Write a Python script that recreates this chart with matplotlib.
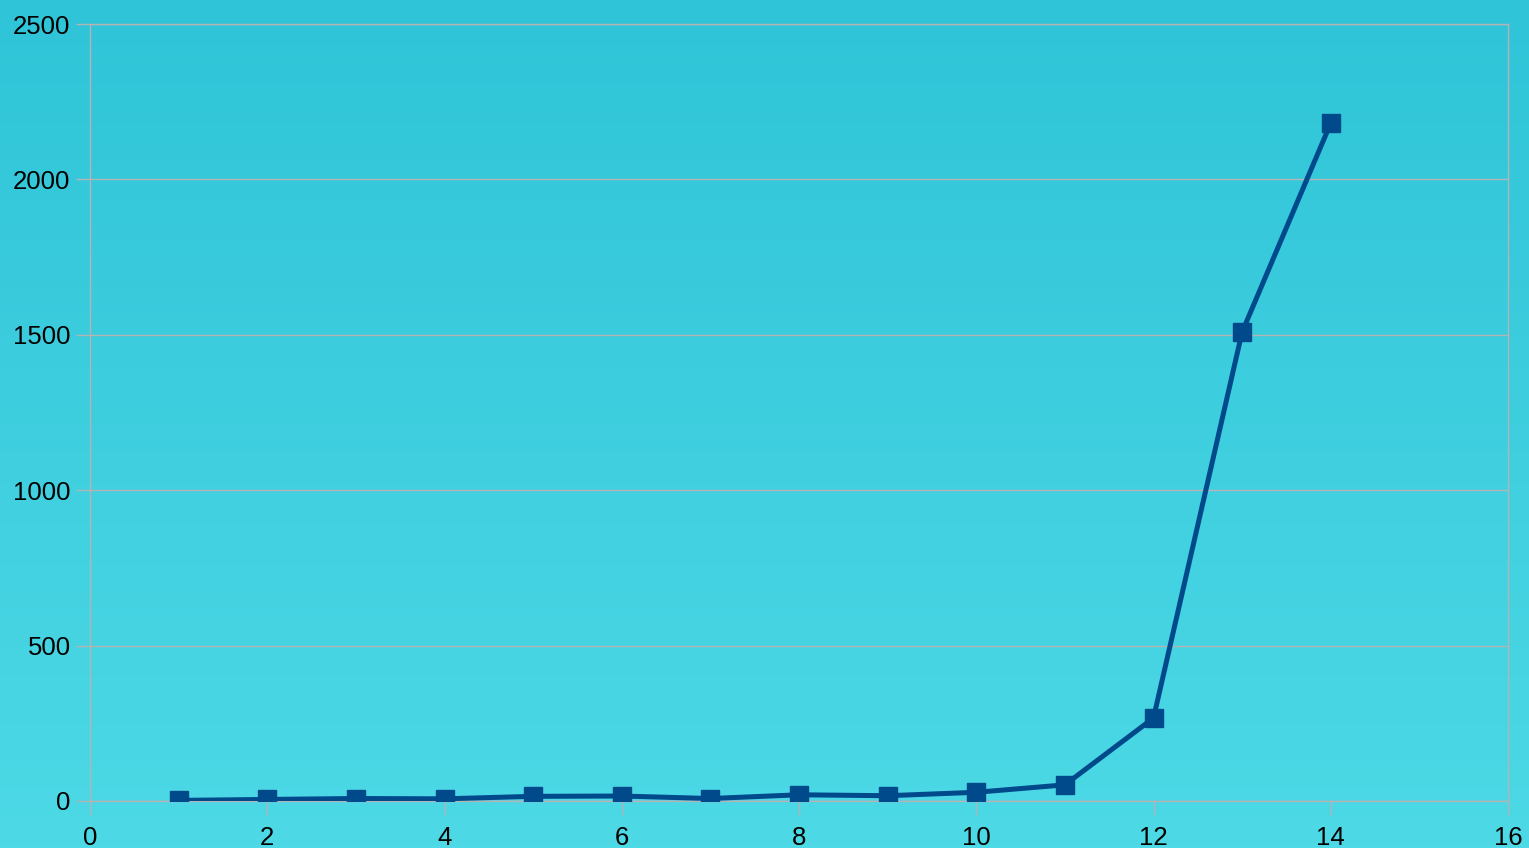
import numpy as np
import matplotlib
matplotlib.use("Agg")
import matplotlib.pyplot as plt
from matplotlib.colors import LinearSegmentedColormap

# data
x_vals = [1, 2, 3, 4, 5, 6, 7, 8, 9, 10, 11, 12, 13, 14]
y_vals = [2, 5, 8, 7, 15, 16, 8, 20, 17, 28, 52, 267, 1509, 2181]

x_ticks = [0, 2, 4, 6, 8, 10, 12, 14, 16]
y_ticks = [0, 500, 1000, 1500, 2000, 2500]

LINE = "#004A8C"
GRID = "#B4B4B4"
TOP_BG = "#2FC4D8"
BOT_BG = "#4DD9E6"

plt.rcParams["font.family"] = ["Liberation Sans", "DejaVu Sans"]

fig = plt.figure(figsize=(15.29, 8.48), dpi=100)

# vertical gradient background over the whole figure
bg = fig.add_axes([0, 0, 1, 1], zorder=-10)
cmap = LinearSegmentedColormap.from_list("bg", [BOT_BG, TOP_BG])
grad = np.linspace(0, 1, 256).reshape(-1, 1)
bg.imshow(grad, aspect="auto", cmap=cmap, origin="lower", extent=[0, 1, 0, 1])
bg.axis("off")

ax = fig.add_axes([90 / 1529, 47 / 848, 1418 / 1529, 777 / 848])
ax.patch.set_alpha(0)

ax.plot(x_vals, y_vals, color=LINE, linewidth=3.6, marker="s",
        markersize=13.5, markerfacecolor=LINE, markeredgecolor=LINE, zorder=3)

ax.set_xlim(0, 16)
ax.set_ylim(0, 2500)
ax.set_xticks(x_ticks)
ax.set_yticks(y_ticks)
ax.yaxis.grid(True, color=GRID, linewidth=1.0)
ax.set_axisbelow(True)

for s in ax.spines.values():
    s.set_color(GRID)
    s.set_linewidth(1.0)

ax.tick_params(axis="both", colors=GRID, labelcolor="black", labelsize=18.5,
               length=10, width=1.0, direction="out")
ax.tick_params(axis="y", pad=4)
ax.tick_params(axis="x", pad=8)

fig.savefig("out.png", dpi=100)
